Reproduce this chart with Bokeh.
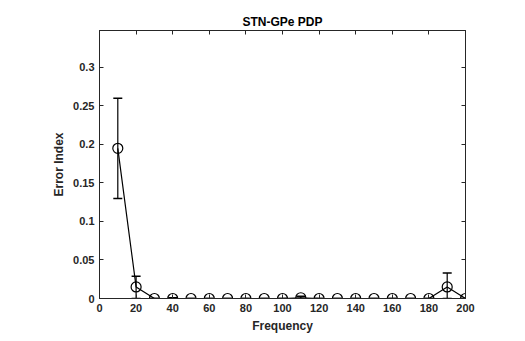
from bokeh.plotting import figure
from bokeh.models import ColumnDataSource, Whisker, TeeHead, LinearAxis, Range1d, FixedTicker
from bokeh.embed import file_html
from bokeh.resources import INLINE

freq = [10, 20, 30, 40, 50, 60, 70, 80, 90, 100, 110, 120, 130, 140, 150, 160, 170, 180, 190, 200]
err_index = [0.195, 0.015, 0.0, 0.0, 0.0, 0.0, 0.0, 0.0, 0.0, 0.0, 0.001, 0.0, 0.0, 0.0, 0.0, 0.0, 0.0, 0.0, 0.015, 0.0]
err_upper = [0.26, 0.029, 0.0, 0.001, 0.0, 0.0, 0.0, 0.0, 0.0, 0.0, 0.003, 0.0, 0.0, 0.0, 0.0, 0.0, 0.0, 0.0, 0.033, 0.0]
err_lower = [0.13, 0.0, 0.0, 0.0, 0.0, 0.0, 0.0, 0.0, 0.0, 0.0, 0.0, 0.0, 0.0, 0.0, 0.0, 0.0, 0.0, 0.0, 0.0, 0.0]
x_ticks = [0, 20, 40, 60, 80, 100, 120, 140, 160, 180, 200]
y_ticks = [0, 0.05, 0.1, 0.15, 0.2, 0.25, 0.3]

FONT = "Liberation Sans"
TXT = "#262626"

src = ColumnDataSource(dict(x=freq, y=err_index, up=err_upper, lo=err_lower))

p = figure(width=509, height=325, output_backend="svg", toolbar_location=None,
           x_range=Range1d(0, 200), y_range=Range1d(0, 0.348),
           frame_width=366, frame_height=268,
           min_border_left=99, min_border_top=30, min_border_right=10, min_border_bottom=10,
           x_axis_label="Frequency", y_axis_label="Error Index")
p.title.text = "STN-GPe PDP"
p.title.align = "center"
p.title.text_font = FONT
p.title.text_font_size = "12px"
p.title.text_font_style = "bold"
p.title.text_color = "#000000"
p.title.standoff = 4

p.grid.visible = False
p.outline_line_color = TXT
p.outline_line_width = 1
p.background_fill_color = "white"
p.border_fill_color = "white"

p.xaxis.ticker = FixedTicker(ticks=x_ticks)
p.yaxis.ticker = FixedTicker(ticks=y_ticks)
p.yaxis.major_label_overrides = {0: "0", 0.05: "0.05", 0.1: "0.1", 0.15: "0.15", 0.2: "0.2", 0.25: "0.25", 0.3: "0.3"}

for ax in [p.xaxis[0], p.yaxis[0]]:
    ax.major_tick_in = 4
    ax.major_tick_out = 0
    ax.minor_tick_line_color = None
    ax.axis_line_color = TXT
    ax.major_tick_line_color = TXT
    ax.major_label_text_font = FONT
    ax.major_label_text_font_style = "bold"
    ax.major_label_text_font_size = "11px"
    ax.major_label_text_color = TXT
    ax.axis_label_text_font = FONT
    ax.axis_label_text_font_style = "bold"
    ax.axis_label_text_font_size = "12px"
    ax.axis_label_text_color = TXT
    ax.major_label_standoff = 5
    ax.axis_label_standoff = 4

top = LinearAxis(ticker=FixedTicker(ticks=x_ticks), major_tick_in=4, major_tick_out=0,
                 minor_tick_line_color=None,
                 major_label_overrides={t: "" for t in x_ticks},
                 axis_line_color=TXT, major_tick_line_color=TXT, major_label_standoff=0)
right = LinearAxis(ticker=FixedTicker(ticks=y_ticks), major_tick_in=4, major_tick_out=0,
                   minor_tick_line_color=None,
                   major_label_overrides={t: "" for t in y_ticks},
                   axis_line_color=TXT, major_tick_line_color=TXT, major_label_standoff=0)
p.add_layout(top, "above")
p.add_layout(right, "right")

wh = Whisker(base="x", upper="up", lower="lo", source=src, line_color="black", line_width=1.2,
             upper_head=TeeHead(size=9, line_color="black", line_width=1.5),
             lower_head=TeeHead(size=9, line_color="black", line_width=1.5))
p.add_layout(wh)

p.line("x", "y", source=src, line_color="black", line_width=1.2)
p.scatter("x", "y", source=src, marker="circle", size=10, fill_color=None, line_color="black", line_width=1.2)

open("out.html", "w").write(file_html(p, INLINE))
